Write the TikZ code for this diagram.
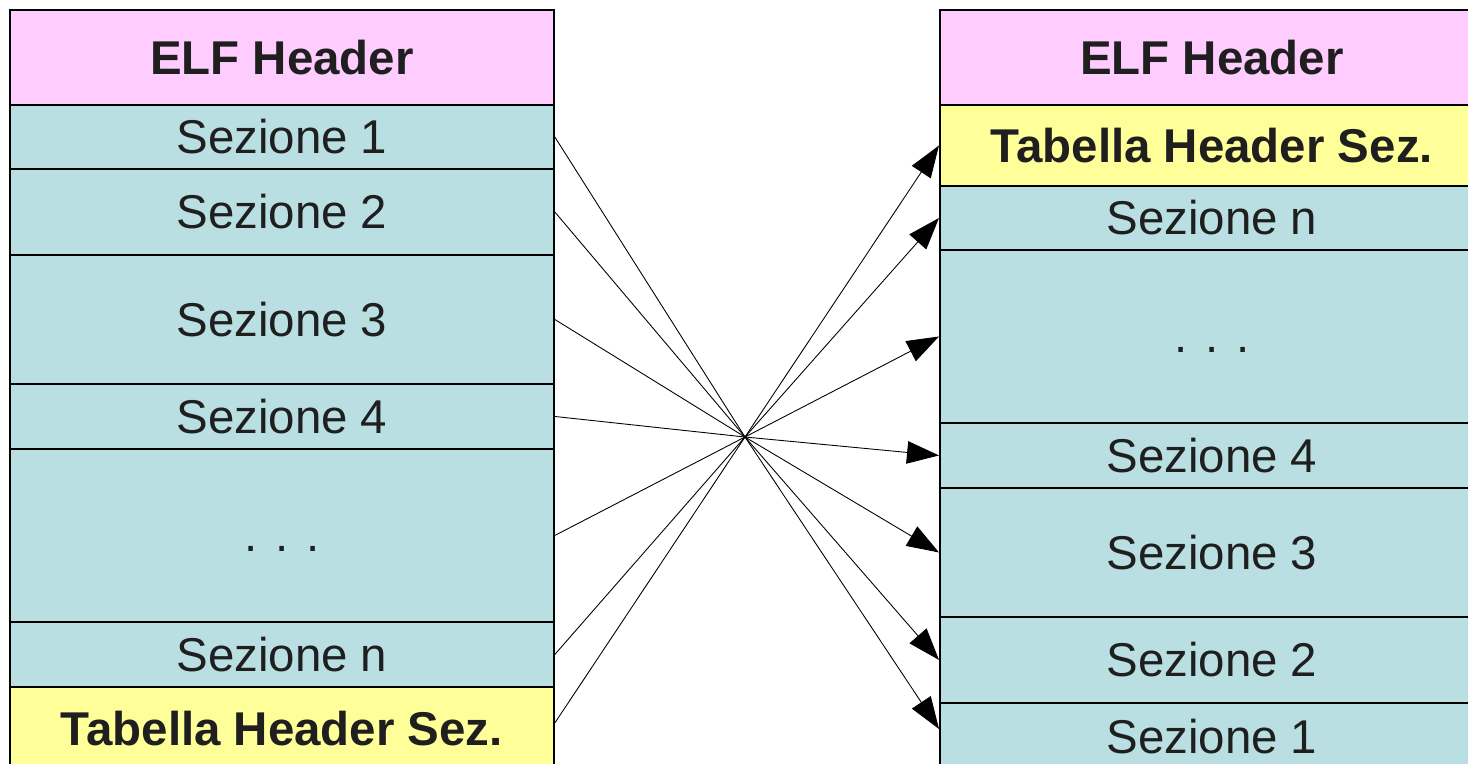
\documentclass[tikz,border=0pt]{standalone}
\usepackage{fontspec}
\setmainfont{Liberation Sans}
\usetikzlibrary{arrows.meta}

\definecolor{elfpink}{RGB}{255,204,255}
\definecolor{seccyan}{RGB}{185,223,226}
\definecolor{tabyellow}{RGB}{255,255,153}

\tikzset{
	block/.style={draw, line width=1.1pt, minimum width=10.88cm, inner sep=0pt,
		anchor=north west, text=black!88, font=\fontsize{27}{30}\selectfont},
	hdr/.style={block, fill=elfpink, font=\fontsize{27}{30}\selectfont\bfseries},
	sez/.style={block, fill=seccyan},
	tab/.style={block, fill=tabyellow, font=\fontsize{27}{30}\selectfont\bfseries},
}

\begin{document}
\begin{tikzpicture}[x=0.02cm, y=-0.02cm, >={Triangle[length=0.64cm, width=0.45cm]}]
	\clip (0,0) rectangle (1468,764);
	% file on the left
	\foreach \nm/\top/\bot/\sty/\txt in {l0/9/104/hdr/ELF Header, l1/104/168/sez/Sezione 1,
		l2/168/254/sez/Sezione 2, l3/254/383/sez/Sezione 3, l4/383/448/sez/Sezione 4,
		ld/448/621/sez/. . .\vphantom{S}, ln/621/686/sez/Sezione n, lt/686/770/tab/Tabella Header Sez.}
	{
		\node[\sty, minimum height=(\bot-\top)*0.02cm] (\nm) at (9,\top) {\txt};
	};
	% file on the right
	\foreach \nm/\top/\bot/\sty/\txt in {r0/9/104/hdr/ELF Header, rt/104/185/tab/Tabella Header Sez.,
		rn/185/249/sez/Sezione n, rd/249/422/sez/. . .\vphantom{S}, r4/422/487/sez/Sezione 4,
		r3/487/616/sez/Sezione 3, r2/616/702/sez/Sezione 2, r1/702/770/sez/Sezione 1}
	{
		\node[\sty, minimum height=(\bot-\top)*0.02cm] (\nm) at (939,\top) {\txt};
	};
	\coordinate (hub) at (745,437);
	\coordinate (lt-out) at ([yshift=0.12cm]lt.east);
	\coordinate (r1-in) at ([yshift=0.16cm]r1.west);
	\begin{scope}[line width=0.5pt]
		\foreach \a/\b in {l1.east/r1-in, l2.east/r2.west, l3.east/r3.west, l4.east/r4.west,
			ld.east/rd.west, ln.east/rn.west, lt-out/rt.west}
		{
			\draw[->] (\a) -- (hub) -- (\b);
		};
	\end{scope}
\end{tikzpicture}
\end{document}
